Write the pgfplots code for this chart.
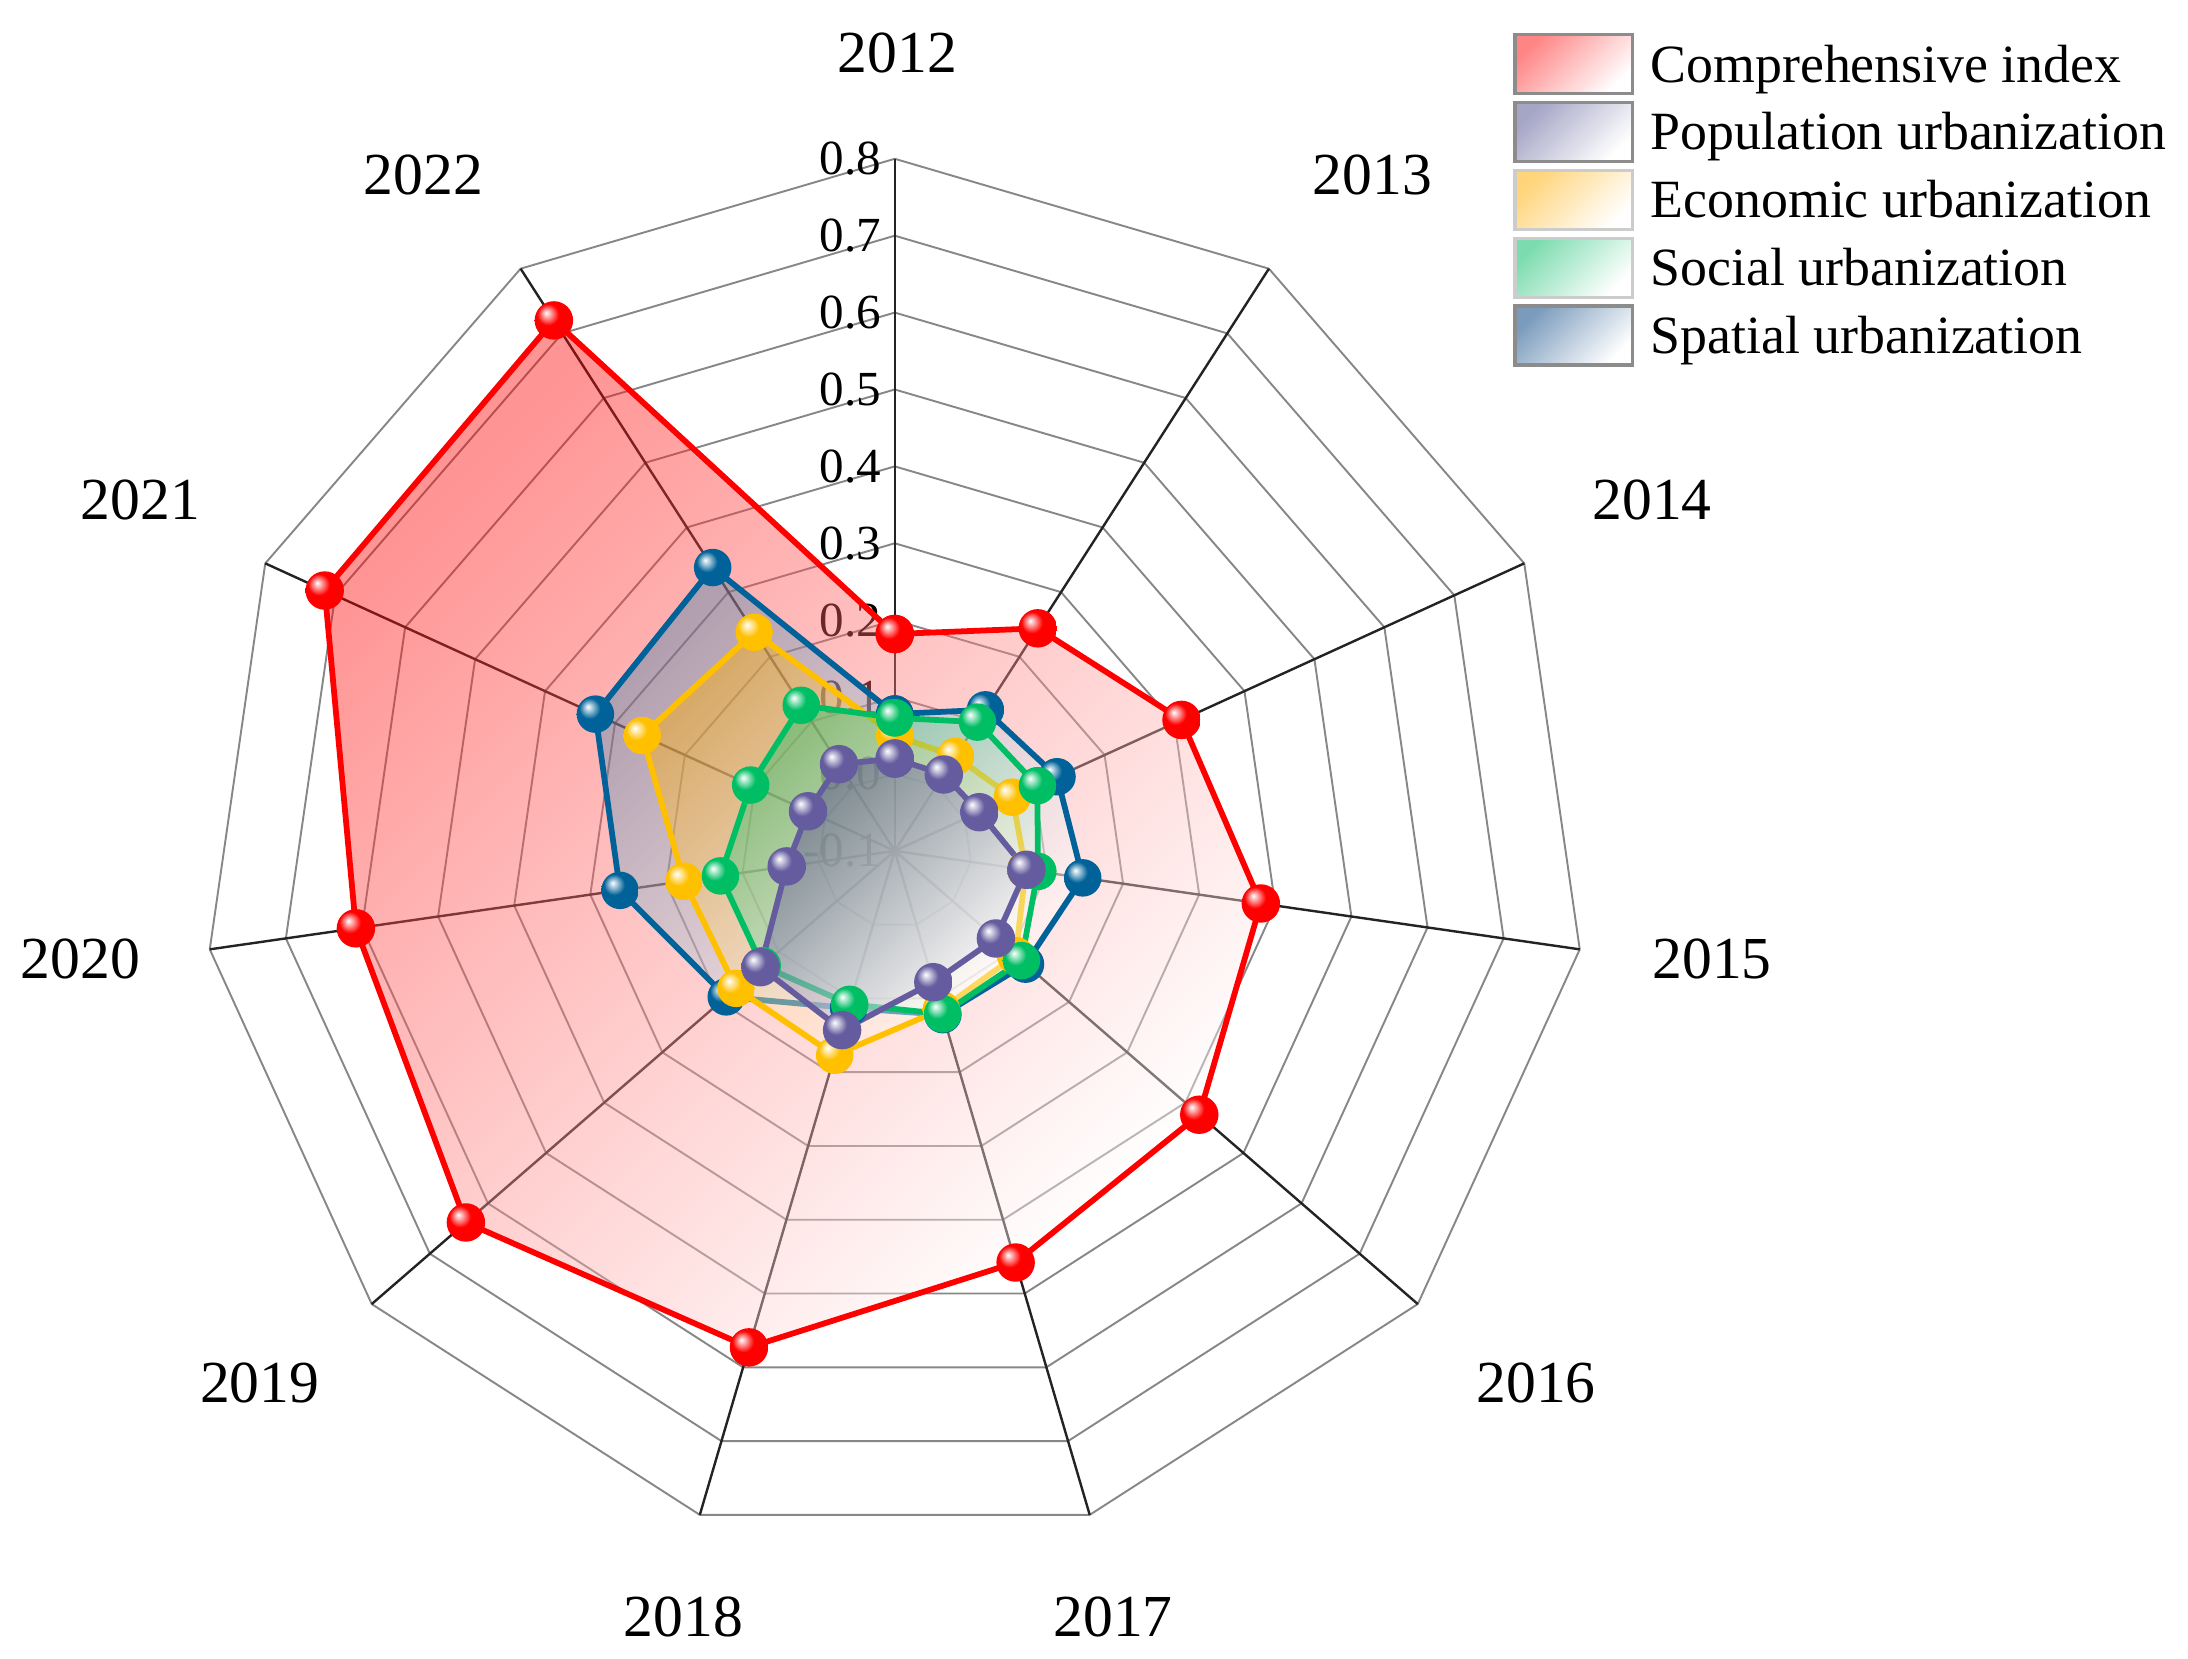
\documentclass[border=0pt]{standalone}
\usepackage{fontspec}
\setmainfont{Liberation Serif}
\usepackage{pgfplots}
\usepackage{pgfplotstable}
\pgfplotsset{compat=1.18}

\definecolor{compcol}{RGB}{255,0,0}
\definecolor{popcol}{RGB}{100,92,158}
\definecolor{ecocol}{RGB}{255,192,0}
\definecolor{soccol}{RGB}{0,190,100}
\definecolor{spacol}{RGB}{0,98,152}
\definecolor{gridcol}{RGB}{135,135,135}
\definecolor{spokecol}{RGB}{35,35,35}
\colorlet{ballcol}{red}

% glossy ball marker
\pgfdeclareradialshading[ballcol]{myball}{\pgfqpoint{-10bp}{10bp}}{%
  color(0bp)=(white); color(5bp)=(ballcol!35!white); color(14bp)=(ballcol);
  color(36bp)=(ballcol); color(60bp)=(ballcol!78!black)}
\pgfdeclareplotmark{sball}{%
  \pgfpathcircle{\pgfpointorigin}{\pgfplotmarksize}%
  \pgfshadepath{myball}{0}%
  \pgfusepath{}}

% angle (deg, clockwise from 2012 at top) and index values
\pgfplotstableread{
ang comp pop eco soc spa
90 0.182 0.020 0.050 0.073 0.078
57.2727 0.244 0.018 0.046 0.099 0.118
24.5455 0.310 0.021 0.068 0.104 0.132
-8.1818 0.381 0.073 0.072 0.088 0.147
-40.9091 0.424 0.074 0.108 0.118 0.125
-73.6364 0.458 0.078 0.115 0.121 0.122
-106.3636 0.573 0.143 0.177 0.108 0.113
-139.0909 0.638 0.131 0.173 0.128 0.190
-171.8182 0.608 0.042 0.177 0.129 0.261
-204.5455 0.715 0.024 0.261 0.106 0.328
-237.2727 0.720 0.034 0.238 0.125 0.338
-270 0.182 0.020 0.050 0.073 0.078
}\data

\begin{document}
\begin{tikzpicture}
\begin{axis}[
  at={(0,0)}, anchor=origin,
  x=5.623cm, y=5.623cm,
  xmin=-1.2, xmax=1.7, ymin=-1.1, ymax=1.15,
  hide axis, clip=false,
  legend cell align=left,
  legend style={at={(0.6907,0.9621)}, anchor=north west, draw=none, fill=none,
    inner sep=0pt, row sep=1.15pt, column sep=0.12cm,
    font=\fontsize{11.2}{13}\selectfont,
    nodes={inner sep=0pt, text height=7.4pt, text depth=0pt}},
]
% ---- polygon grid (radius = value + 0.1; centre = -0.1)
\pgfplotsinvokeforeach{0.1,0.2,0.3,0.4,0.5,0.6,0.7,0.8,0.9}{
  \addplot[forget plot, gridcol, line width=0.4pt, data cs=polar] coordinates {(90,#1) (57.2727,#1) (24.5455,#1) (-8.1818,#1) (-40.9091,#1) (-73.6364,#1) (-106.3636,#1) (-139.0909,#1) (-171.8182,#1) (-204.5455,#1) (-237.2727,#1) (-270,#1)};
}
\pgfplotsinvokeforeach{90,57.2727,24.5455,-8.1818,-40.9091,-73.6364,-106.3636,-139.0909,-171.8182,-204.5455,-237.2727}{
  \addplot[forget plot, spokecol, line width=0.5pt, data cs=polar] coordinates {(#1,0) (#1,0.9)};
}
% ---- radial tick labels
\begin{scope}[every node/.style={anchor=east, inner sep=0pt, font=\fontsize{10.2}{12}\selectfont}]
\node at ([xshift=-0.095cm]axis cs:0,0.9) {0.8};
\node at ([xshift=-0.095cm]axis cs:0,0.8) {0.7};
\node at ([xshift=-0.095cm]axis cs:0,0.7) {0.6};
\node at ([xshift=-0.095cm]axis cs:0,0.6) {0.5};
\node at ([xshift=-0.095cm]axis cs:0,0.5) {0.4};
\node at ([xshift=-0.095cm]axis cs:0,0.4) {0.3};
\node at ([xshift=-0.095cm]axis cs:0,0.3) {0.2};
\node at ([xshift=-0.095cm]axis cs:0,0.2) {0.1};
\node at ([xshift=-0.095cm]axis cs:0,0.1) {0.0};
\node at ([xshift=-0.095cm]axis cs:0,0.0) {-0.1};
\end{scope}

% ---- Comprehensive index
\addplot[forget plot, draw=none, top color=compcol, bottom color=white, shading angle=45, fill opacity=0.42, data cs=polar]
  table[x=ang, y expr=\thisrow{comp}+0.1] {\data};
\addplot[forget plot, draw=compcol, line width=1.2pt, mark=sball, mark size=4pt, mark options={/utils/exec={\colorlet{ballcol}{compcol}}}, data cs=polar]
  table[x=ang, y expr=\thisrow{comp}+0.1] {\data};
% ---- Spatial urbanization
\addplot[forget plot, draw=none, top color=spacol!80!white, bottom color=white, shading angle=45, fill opacity=0.38, data cs=polar]
  table[x=ang, y expr=\thisrow{spa}+0.1] {\data};
\addplot[forget plot, draw=spacol, line width=1.2pt, mark=sball, mark size=3.9pt, mark options={/utils/exec={\colorlet{ballcol}{spacol}}}, data cs=polar]
  table[x=ang, y expr=\thisrow{spa}+0.1] {\data};
% ---- Economic urbanization
\addplot[forget plot, draw=none, top color=ecocol!90!red, bottom color=white, shading angle=45, fill opacity=0.42, data cs=polar]
  table[x=ang, y expr=\thisrow{eco}+0.1] {\data};
\addplot[forget plot, draw=ecocol, line width=1.2pt, mark=sball, mark size=3.9pt, mark options={/utils/exec={\colorlet{ballcol}{ecocol}}}, data cs=polar]
  table[x=ang, y expr=\thisrow{eco}+0.1] {\data};
% ---- Social urbanization
\addplot[forget plot, draw=none, top color=soccol, bottom color=white, shading angle=45, fill opacity=0.38, data cs=polar]
  table[x=ang, y expr=\thisrow{soc}+0.1] {\data};
\addplot[forget plot, draw=soccol, line width=1.2pt, mark=sball, mark size=3.9pt, mark options={/utils/exec={\colorlet{ballcol}{soccol}}}, data cs=polar]
  table[x=ang, y expr=\thisrow{soc}+0.1] {\data};
% ---- Population urbanization
\addplot[forget plot, draw=none, top color=popcol!85!black, bottom color=white, shading angle=45, fill opacity=0.55, data cs=polar]
  table[x=ang, y expr=\thisrow{pop}+0.1] {\data};
\addplot[forget plot, draw=popcol, line width=1.2pt, mark=sball, mark size=4pt, mark options={/utils/exec={\colorlet{ballcol}{popcol}}}, data cs=polar]
  table[x=ang, y expr=\thisrow{pop}+0.1] {\data};

% ---- legend
\addlegendimage{legend image code/.code={\draw[black!45, line width=0.7pt, top color=red!48, bottom color=white, shading angle=45] (0cm,-0.2155cm) rectangle (0.86cm,0.2155cm);}}
\addlegendentry{Comprehensive index}
\addlegendimage{legend image code/.code={\draw[black!45, line width=0.7pt, top color={rgb,255:red,165;green,165;blue,198}, bottom color=white, shading angle=45] (0cm,-0.2155cm) rectangle (0.86cm,0.2155cm);}}
\addlegendentry{Population urbanization}
\addlegendimage{legend image code/.code={\draw[black!20, line width=0.7pt, top color={rgb,255:red,255;green,212;blue,122}, bottom color=white, shading angle=45] (0cm,-0.2155cm) rectangle (0.86cm,0.2155cm);}}
\addlegendentry{Economic urbanization}
\addlegendimage{legend image code/.code={\draw[black!20, line width=0.7pt, top color={rgb,255:red,125;green,220;blue,175}, bottom color=white, shading angle=45] (0cm,-0.2155cm) rectangle (0.86cm,0.2155cm);}}
\addlegendentry{Social urbanization}
\addlegendimage{legend image code/.code={\draw[black!45, line width=0.7pt, top color={rgb,255:red,122;green,155;blue,188}, bottom color=white, shading angle=45] (0cm,-0.2155cm) rectangle (0.86cm,0.2155cm);}}
\addlegendentry{Spatial urbanization}

% ---- year labels
\begin{scope}[every node/.style={font=\fontsize{12.4}{14}\selectfont, inner sep=0pt}]
\node at (axis cs:0.0035,1.037) {2012};
\node at (axis cs:0.621,0.879) {2013};
\node at (axis cs:0.985,0.456) {2014};
\node at (axis cs:1.063,-0.141) {2015};
\node at (axis cs:0.834,-0.692) {2016};
\node at (axis cs:0.284,-0.996) {2017};
\node at (axis cs:-0.275,-0.996) {2018};
\node at (axis cs:-0.826,-0.692) {2019};
\node at (axis cs:-1.059,-0.141) {2020};
\node at (axis cs:-0.981,0.456) {2021};
\node at (axis cs:-0.613,0.879) {2022};
\end{scope}
\end{axis}
\pgfresetboundingbox
\path[use as bounding box] (-6.543cm,-5.909cm) rectangle (9.457cm,6.222cm);
\end{tikzpicture}
\end{document}
